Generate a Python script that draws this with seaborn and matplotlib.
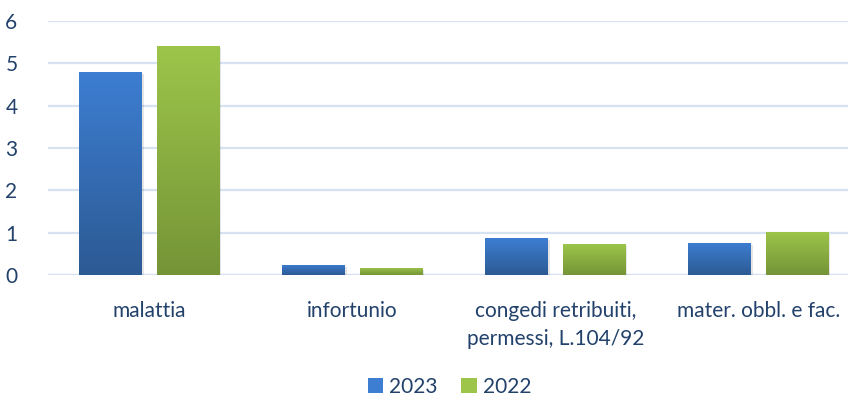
import numpy as np
import pandas as pd
import matplotlib
matplotlib.use("Agg")
import matplotlib.pyplot as plt
import matplotlib.patheffects as pe
from matplotlib.colors import LinearSegmentedColormap
from matplotlib.patches import Patch
import seaborn as sns

categories = ["malattia", "infortunio", "congedi retribuiti,\npermessi, L.104/92", "mater. obbl. e fac."]
series_names = ["2023", "2022"]
values_2023 = [4.8, 0.24, 0.87, 0.76]
values_2022 = [5.4, 0.17, 0.73, 1.02]
y_ticks = [0, 1, 2, 3, 4, 5, 6]

df = pd.DataFrame({
    "categoria": categories * 2,
    "anno": [series_names[0]] * 4 + [series_names[1]] * 4,
    "valore": values_2023 + values_2022,
})

sns.set_theme(style="white")
plt.rcParams["font.family"] = ["Lato", "DejaVu Sans"]

text_color = "#22416B"
grid_color = "#D6E2F1"
fsize = 15
colors = {"2023": ("#3D7ED2", "#2C5A93"), "2022": ("#9DC54A", "#759437")}

fig = plt.figure(figsize=(8.48, 3.96), dpi=100)
# plot area runs slightly past the right edge of the canvas
ax = fig.add_axes([48 / 848, 1 - 275 / 396, 812 / 848, 254 / 396])

sns.barplot(data=df, x="categoria", y="valore", hue="anno", order=categories,
            hue_order=series_names, palette={k: v[0] for k, v in colors.items()},
            width=0.76, gap=0.184, ax=ax, legend=False, saturation=1, linewidth=0)

ax.set_ylim(0, 6)
ax.set_xlim(-0.5, len(categories) - 0.5)
ax.set_yticks(y_ticks)
ax.yaxis.grid(True, color=grid_color, linewidth=1.6)
ax.set_axisbelow(True)
for s in ax.spines.values():
    s.set_visible(False)
ax.axhline(0, color=grid_color, linewidth=1.6, zorder=0.5)
ax.set_xlabel("")
ax.set_ylabel("")
ax.tick_params(axis="y", length=0, pad=22, labelsize=fsize, labelcolor=text_color)
ax.tick_params(axis="x", length=0, pad=19, labelsize=fsize, labelcolor=text_color)
for lbl in ax.get_xticklabels():
    lbl.set_linespacing(1.45)

# vertical gradient fill on each bar, lighter at the top, with a faint drop shadow
grad = np.linspace(1, 0, 256).reshape(-1, 1)
for i, name in enumerate(series_names):
    cmap = LinearSegmentedColormap.from_list(name, [colors[name][1], colors[name][0]])
    for bar in ax.containers[i]:
        bar.set_path_effects([pe.SimplePatchShadow(offset=(1, -1.5), shadow_rgbFace="#000000", alpha=0.1),
                              pe.Normal()])
        x0, y0 = bar.get_x(), bar.get_y()
        w, h = bar.get_width(), bar.get_height()
        im = ax.imshow(grad, extent=[x0, x0 + w, y0, y0 + h], aspect="auto",
                       cmap=cmap, vmin=0, vmax=1, zorder=bar.get_zorder() + 0.1,
                       origin="upper")
        im.set_clip_path(bar)
ax.set_xlim(-0.5, len(categories) - 0.5)
ax.set_ylim(0, 6)

handles = [Patch(facecolor=colors[n][0], edgecolor="none") for n in series_names]
fig.legend(handles, series_names, loc="center", bbox_to_anchor=(0.53, 1 - 387 / 396),
           ncol=2, frameon=False, fontsize=fsize, labelcolor=text_color,
           handlelength=0.75, handleheight=0.75, handletextpad=0.3, columnspacing=1.1)

fig.savefig("out.png", dpi=100)
